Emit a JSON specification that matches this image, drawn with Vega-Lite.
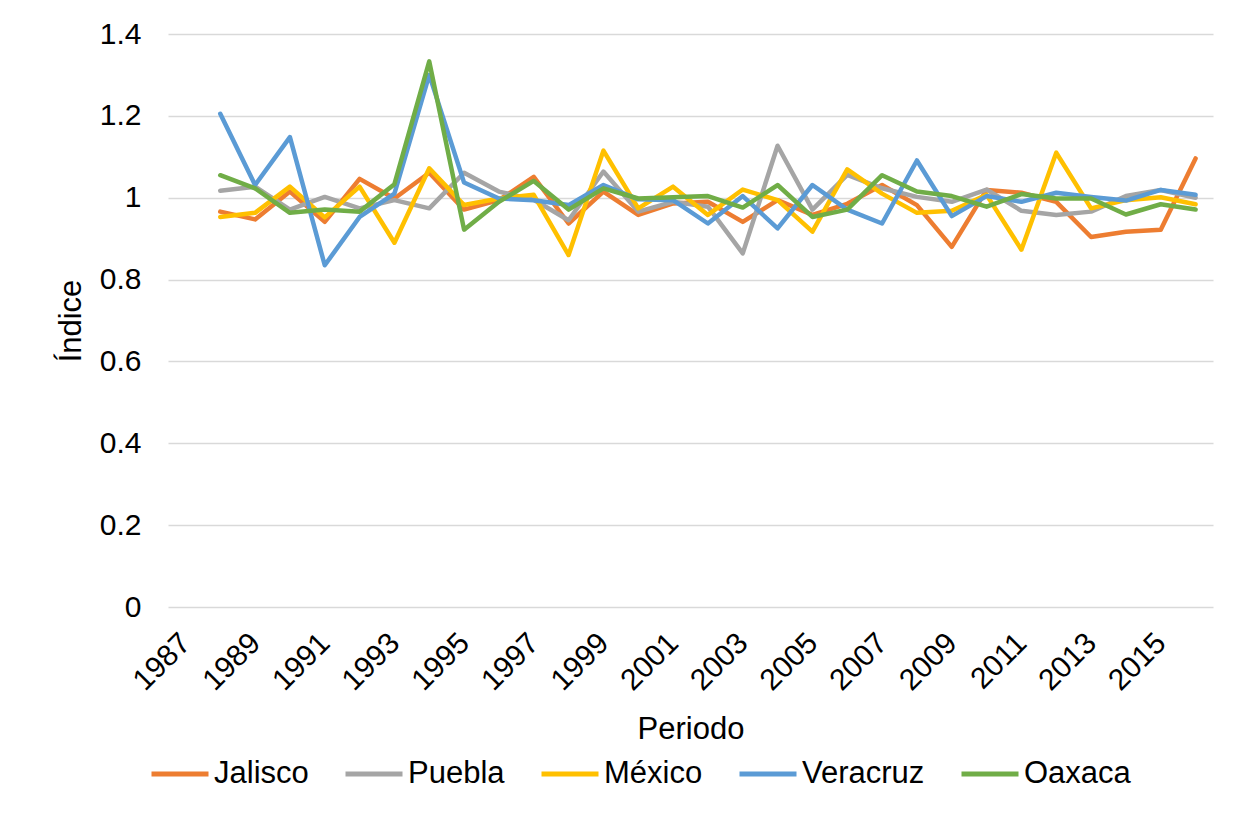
{
  "$schema": "https://vega.github.io/schema/vega-lite/v6.json",
  "width": 1045,
  "height": 573,
  "autosize": {"type": "none"},
  "padding": {"left": 168, "top": 34, "right": 35, "bottom": 220},
  "background": "white",
  "config": {
    "view": {"stroke": null},
    "font": "Liberation Sans"
  },
  "data": {
    "values": [
      {"Periodo": 1988, "Jalisco": 0.966, "Puebla": 1.017, "México": 0.953, "Veracruz": 1.205, "Oaxaca": 1.055},
      {"Periodo": 1989, "Jalisco": 0.947, "Puebla": 1.027, "México": 0.963, "Veracruz": 1.031, "Oaxaca": 1.023},
      {"Periodo": 1990, "Jalisco": 1.015, "Puebla": 0.971, "México": 1.027, "Veracruz": 1.148, "Oaxaca": 0.963},
      {"Periodo": 1991, "Jalisco": 0.941, "Puebla": 1.002, "México": 0.952, "Veracruz": 0.835, "Oaxaca": 0.971},
      {"Periodo": 1992, "Jalisco": 1.046, "Puebla": 0.974, "México": 1.027, "Veracruz": 0.953, "Oaxaca": 0.966},
      {"Periodo": 1993, "Jalisco": 0.998, "Puebla": 0.994, "México": 0.89, "Veracruz": 1.01, "Oaxaca": 1.033},
      {"Periodo": 1994, "Jalisco": 1.061, "Puebla": 0.974, "México": 1.072, "Veracruz": 1.3, "Oaxaca": 1.333},
      {"Periodo": 1995, "Jalisco": 0.971, "Puebla": 1.061, "México": 0.982, "Veracruz": 1.037, "Oaxaca": 0.922},
      {"Periodo": 1996, "Jalisco": 0.994, "Puebla": 1.015, "México": 0.998, "Veracruz": 0.998, "Oaxaca": 0.99},
      {"Periodo": 1997, "Jalisco": 1.051, "Puebla": 0.995, "México": 1.007, "Veracruz": 0.994, "Oaxaca": 1.041},
      {"Periodo": 1998, "Jalisco": 0.937, "Puebla": 0.945, "México": 0.86, "Veracruz": 0.982, "Oaxaca": 0.971},
      {"Periodo": 1999, "Jalisco": 1.015, "Puebla": 1.064, "México": 1.115, "Veracruz": 1.031, "Oaxaca": 1.023},
      {"Periodo": 2000, "Jalisco": 0.958, "Puebla": 0.966, "México": 0.974, "Veracruz": 0.996, "Oaxaca": 0.998},
      {"Periodo": 2001, "Jalisco": 0.986, "Puebla": 0.99, "México": 1.027, "Veracruz": 0.994, "Oaxaca": 1.001},
      {"Periodo": 2002, "Jalisco": 0.99, "Puebla": 0.978, "México": 0.958, "Veracruz": 0.937, "Oaxaca": 1.004},
      {"Periodo": 2003, "Jalisco": 0.941, "Puebla": 0.864, "México": 1.02, "Veracruz": 1.004, "Oaxaca": 0.976},
      {"Periodo": 2004, "Jalisco": 0.994, "Puebla": 1.127, "México": 0.994, "Veracruz": 0.925, "Oaxaca": 1.031},
      {"Periodo": 2005, "Jalisco": 0.958, "Puebla": 0.971, "México": 0.917, "Veracruz": 1.031, "Oaxaca": 0.953},
      {"Periodo": 2006, "Jalisco": 0.985, "Puebla": 1.056, "México": 1.069, "Veracruz": 0.971, "Oaxaca": 0.971},
      {"Periodo": 2007, "Jalisco": 1.031, "Puebla": 1.023, "México": 1.01, "Veracruz": 0.937, "Oaxaca": 1.055},
      {"Periodo": 2008, "Jalisco": 0.982, "Puebla": 1.002, "México": 0.963, "Veracruz": 1.091, "Oaxaca": 1.015},
      {"Periodo": 2009, "Jalisco": 0.88, "Puebla": 0.99, "México": 0.968, "Veracruz": 0.955, "Oaxaca": 1.004},
      {"Periodo": 2010, "Jalisco": 1.019, "Puebla": 1.02, "México": 1.007, "Veracruz": 1.004, "Oaxaca": 0.978},
      {"Periodo": 2011, "Jalisco": 1.012, "Puebla": 0.968, "México": 0.873, "Veracruz": 0.99, "Oaxaca": 1.009},
      {"Periodo": 2012, "Jalisco": 0.99, "Puebla": 0.958, "México": 1.11, "Veracruz": 1.012, "Oaxaca": 0.998},
      {"Periodo": 2013, "Jalisco": 0.904, "Puebla": 0.966, "México": 0.974, "Veracruz": 1.002, "Oaxaca": 0.998},
      {"Periodo": 2014, "Jalisco": 0.917, "Puebla": 1.004, "México": 0.994, "Veracruz": 0.993, "Oaxaca": 0.959},
      {"Periodo": 2015, "Jalisco": 0.922, "Puebla": 1.019, "México": 1.001, "Veracruz": 1.019, "Oaxaca": 0.984},
      {"Periodo": 2016, "Jalisco": 1.096, "Puebla": 1.0, "México": 0.984, "Veracruz": 1.007, "Oaxaca": 0.971}
    ]
  },
  "transform": [
    {"fold": ["Jalisco", "Puebla", "México", "Veracruz", "Oaxaca"], "as": ["Estado", "Indice"]}
  ],
  "mark": {"type": "line", "strokeWidth": 4.5, "strokeJoin": "round", "strokeCap": "round"},
  "encoding": {
    "x": {
      "field": "Periodo",
      "type": "quantitative",
      "scale": {"domain": [1986.5, 2016.5], "nice": false, "zero": false},
      "axis": {
        "title": "Periodo",
        "values": [1987, 1989, 1991, 1993, 1995, 1997, 1999, 2001, 2003, 2005, 2007, 2009, 2011, 2013, 2015],
        "format": "d",
        "grid": false,
        "domain": false,
        "ticks": false,
        "labelAngle": -45,
        "labelAlign": "right",
        "labelBaseline": "middle",
        "labelFontSize": 30,
        "labelColor": "#000000",
        "labelPadding": 31,
        "labelFlush": false,
        "labelOverlap": false,
        "titleFontSize": 31,
        "titleFontWeight": "normal",
        "titleColor": "#000000",
        "titlePadding": 19
      }
    },
    "y": {
      "field": "Indice",
      "type": "quantitative",
      "scale": {"domain": [0, 1.4], "nice": false},
      "axis": {
        "title": "Índice",
        "values": [0, 0.2, 0.4, 0.6, 0.8, 1, 1.2, 1.4],
        "format": "~g",
        "grid": true,
        "gridColor": "#D9D9D9",
        "gridWidth": 1.5,
        "domain": false,
        "ticks": false,
        "labelFontSize": 30,
        "labelColor": "#000000",
        "labelPadding": 27,
        "titleFontSize": 31,
        "titleFontWeight": "normal",
        "titleColor": "#000000",
        "titlePadding": 12
      }
    },
    "color": {
      "field": "Estado",
      "type": "nominal",
      "scale": {
        "domain": ["Jalisco", "Puebla", "México", "Veracruz", "Oaxaca"],
        "range": ["#ED7D31", "#A5A5A5", "#FFC000", "#5B9BD5", "#70AD47"]
      },
      "legend": {
        "title": null,
        "orient": "none",
        "legendX": -19,
        "legendY": 709,
        "direction": "horizontal",
        "columns": 5,
        "symbolType": "stroke",
        "symbolStrokeWidth": 5,
        "symbolSize": 3249,
        "labelFontSize": 31,
        "labelColor": "#000000",
        "labelOffset": 3,
        "columnPadding": 26,
        "labelLimit": 300
      }
    }
  }
}
